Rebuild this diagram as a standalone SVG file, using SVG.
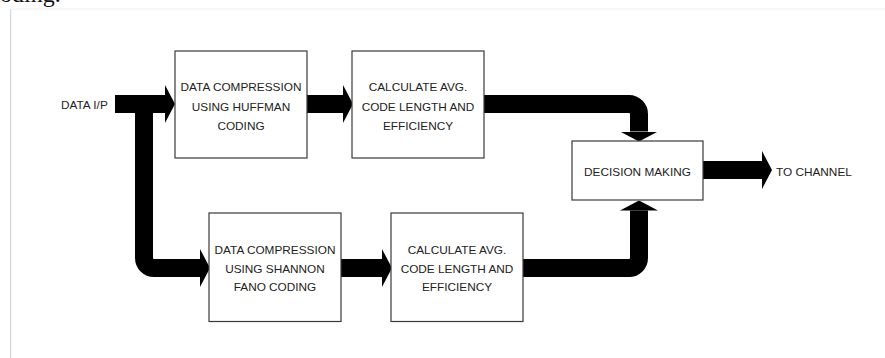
<svg xmlns="http://www.w3.org/2000/svg" width="885" height="358" viewBox="0 0 885 358">
  <style>
    .box { fill: #ffffff; stroke: #3a3a3a; stroke-width: 1.2; }
    .lbl { font-family: "Liberation Sans", Arial, sans-serif; font-size: 11.8px; fill: #222222; text-anchor: middle; }
    .side { font-family: "Liberation Sans", Arial, sans-serif; font-size: 11.8px; fill: #222222; }
    .flow { fill: none; stroke: #000000; stroke-width: 18; stroke-linecap: butt; marker-end: url(#head); }
  </style>
  <defs>
    <marker id="head" markerUnits="userSpaceOnUse" markerWidth="10" markerHeight="38" refX="0" refY="19" orient="auto" viewBox="0 0 10 38">
      <path d="M0,0 L10,19 L0,38 Z" fill="#000000"/>
    </marker>
  </defs>
  <rect x="0" y="0" width="885" height="358" fill="#ffffff"/>
  <g id="page">
    <line x1="10.7" y1="9" x2="10.7" y2="358" stroke="#cccccc" stroke-width="1"/>
    <line x1="11" y1="9" x2="885" y2="9" stroke="#f0f0f0" stroke-width="1"/>
    <text x="0" y="2" font-family="Liberation Serif, serif" font-size="24" fill="#111111">oding.</text>
  </g>
  <g id="connectors">
    <path class="flow" d="M115,104 H165"/>
    <path class="flow" d="M144,104 V258 A10,10 0 0 0 154,268 H200"/>
    <path class="flow" d="M307,104 H343"/>
    <path class="flow" d="M341,268 H382"/>
    <path class="flow" d="M484,104 H629 A10,10 0 0 1 639,114 V131.5"/>
    <path class="flow" d="M523,268 H629 A10,10 0 0 0 639,258 V210.5"/>
    <path class="flow" d="M703,170 H762" stroke-width="20"/>
  </g>
  <g id="input">
    <text class="side" x="61" y="108.5">DATA I/P</text>
  </g>
  <g id="huffman">
    <rect class="box" x="175" y="51" width="132" height="107"/>
    <text class="lbl" x="241" y="91">DATA COMPRESSION</text>
    <text class="lbl" x="241" y="110.5">USING HUFFMAN</text>
    <text class="lbl" x="241" y="130">CODING</text>
  </g>
  <g id="calc1">
    <rect class="box" x="352" y="51" width="132" height="107"/>
    <text class="lbl" x="418" y="91">CALCULATE AVG.</text>
    <text class="lbl" x="418" y="110.5">CODE LENGTH AND</text>
    <text class="lbl" x="418" y="130">EFFICIENCY</text>
  </g>
  <g id="shannon">
    <rect class="box" x="209" y="213" width="132" height="108.5"/>
    <text class="lbl" x="275" y="253.5">DATA COMPRESSION</text>
    <text class="lbl" x="275" y="272.5">USING SHANNON</text>
    <text class="lbl" x="275" y="291">FANO CODING</text>
  </g>
  <g id="calc2">
    <rect class="box" x="391" y="213" width="132" height="108.5"/>
    <text class="lbl" x="457" y="253.5">CALCULATE AVG.</text>
    <text class="lbl" x="457" y="272.5">CODE LENGTH AND</text>
    <text class="lbl" x="457" y="291">EFFICIENCY</text>
  </g>
  <g id="decision">
    <rect class="box" x="572" y="141" width="131" height="59"/>
    <text class="lbl" x="637.5" y="175.5">DECISION MAKING</text>
  </g>
  <g id="output">
    <text class="side" x="776" y="175.5">TO CHANNEL</text>
  </g>
</svg>
